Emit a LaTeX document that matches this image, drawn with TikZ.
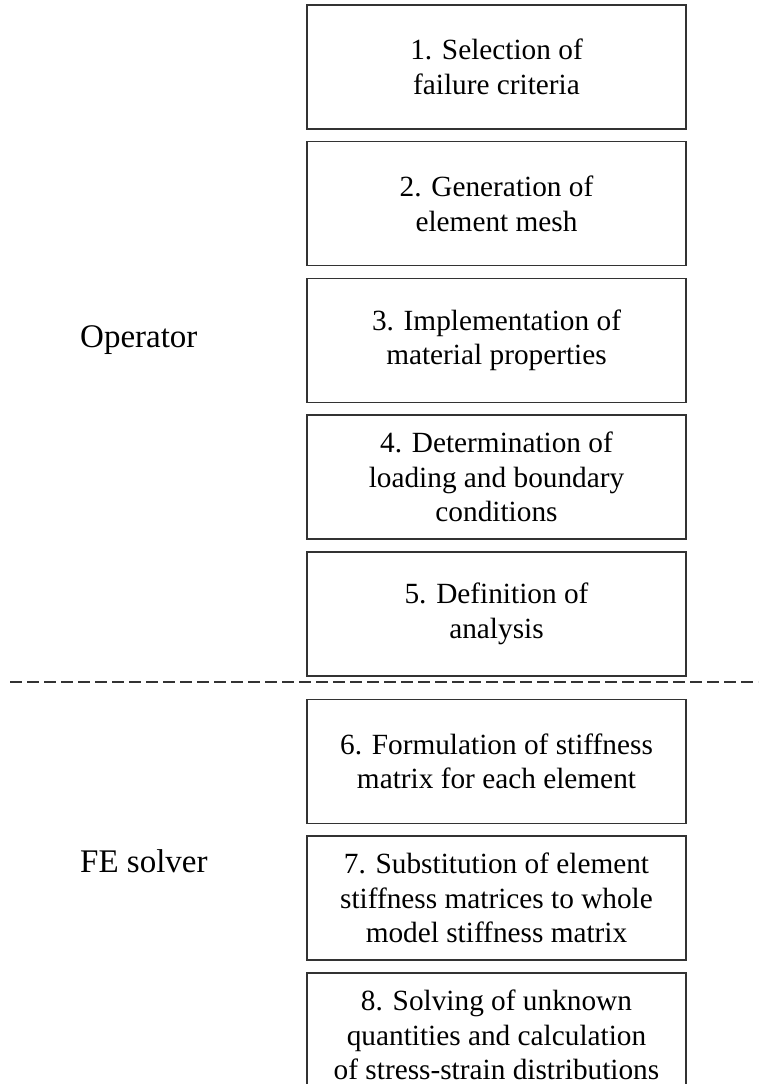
\documentclass[tikz,border=0pt]{standalone}
\usepackage{fontspec}
\setmainfont{Liberation Serif}
\usetikzlibrary{positioning}

\begin{document}
\begin{tikzpicture}[x=1pt,y=-1pt,
  stage/.style={draw=black!80,line width=1.4pt,minimum width=379pt,
    minimum height=124pt,inner sep=0pt,align=center,
    font=\fontsize{29.3}{34.5}\selectfont},
  actor/.style={font=\fontsize{33}{38}\selectfont,inner sep=0pt},
  node distance=11.3pt]
\useasboundingbox (0,0) rectangle (758,1084);

%%%
% operator steps
%%%
\node[stage] (s1) at (496.5,67) {1. Selection of\\failure criteria};
\node[stage,below=of s1] (s2) {2. Generation of\\element mesh};
\node[stage,below=of s2] (s3) {3. Implementation of\\material properties};
\node[stage,below=of s3] (s4) {4. Determination of\\loading and boundary\\conditions};
\node[stage,below=of s4] (s5) {5. Definition of\\analysis};

%%%
% solver steps
%%%
\node[stage,below=22pt of s5] (s6) {6. Formulation of stiffness\\matrix for each element};
\node[stage,below=11.5pt of s6] (s7) {7. Substitution of element\\stiffness matrices to whole\\model stiffness matrix};
\node[stage,below=11.5pt of s7] (s8) {8. Solving of unknown\\quantities and calculation\\of stress-strain distributions};

\node[actor,anchor=base west] (op) at (80,347) {Operator};
\node[actor,anchor=base west] (fe) at (80,872) {FE solver};

% split line
\coordinate (cutL) at (10,682);
\coordinate (cutR) at (758,682);
\draw[black!80,line width=1.4pt,dash pattern=on 12pt off 5pt] (cutL) -- (cutR);
\end{tikzpicture}
\end{document}
